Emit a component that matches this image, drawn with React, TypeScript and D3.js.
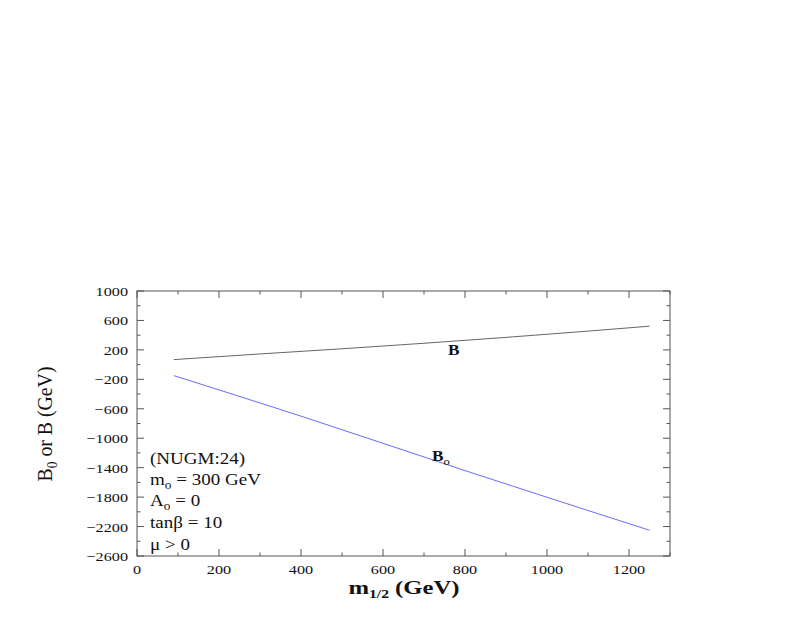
import React from "react";
import * as d3 from "d3";

const bX = [90, 300, 500, 700, 900, 1100, 1250];
const bY = [68, 145, 215, 290, 370, 455, 522];
const b0X = [90, 400, 800, 1250];
const b0Y = [-150, -700, -1440, -2250];
const xTicks = [0, 200, 400, 600, 800, 1000, 1200];
const yTicks = [1000, 600, 200, -200, -600, -1000, -1400, -1800, -2200, -2600];

export default function App() {
  const W = 809, H = 629;
  const L = 137, R = 670, T = 291, B = 556;
  const x = d3.scaleLinear().domain([0, 1300]).range([L, R]);
  const y = d3.scaleLinear().domain([-2600, 1000]).range([B, T]);
  const line = d3.line<[number, number]>().x(d => x(d[0])).y(d => y(d[1])).curve(d3.curveMonotoneX);
  const bData = bX.map((v, i) => [v, bY[i]] as [number, number]);
  const b0Data = b0X.map((v, i) => [v, b0Y[i]] as [number, number]);
  const xMinor = d3.range(0, 1301, 100);
  const yMinor = d3.range(-2600, 1001, 200);
  const font = "'Liberation Serif', 'Times New Roman', serif";
  const fmt = (v: number) => (v < 0 ? "\u2212" + Math.abs(v) : String(v));
  const sub = (main: string, s: string, rest: string) => (
    <>{main}<tspan fontSize="0.7em" dy="4">{s}</tspan><tspan dy="-4">{rest}</tspan></>
  );
  const noteEls = [
    <>(NUGM:24)</>,
    sub("m", "o", " = 300 GeV"),
    sub("A", "o", " = 0"),
    <>tanβ = 10</>,
    <>μ &gt; 0</>,
  ];
  const noteY = [464, 485, 506, 528, 550];
  const tickSx = 1.2;
  const noteSx = 1.12;
  return (
    <svg width={W} height={H} style={{ position: "absolute", left: 0, top: 0 }} fontFamily={font} fill="#111">
      <rect x={0} y={0} width={W} height={H} fill="white" />
      <rect x={L} y={T} width={R - L} height={B - T} fill="none" stroke="#555" strokeWidth={1} />
      {xMinor.map(v => {
        const major = v % 200 === 0;
        const len = major ? 7 : 3.5;
        return (
          <g key={"x" + v} stroke="#555">
            <line x1={x(v)} x2={x(v)} y1={B} y2={B - len} />
            <line x1={x(v)} x2={x(v)} y1={T} y2={T + len} />
          </g>
        );
      })}
      {yMinor.map(v => {
        const major = (v + 2600) % 400 === 0;
        const len = major ? 7 : 3.5;
        return (
          <g key={"y" + v} stroke="#555">
            <line x1={L} x2={L + len} y1={y(v)} y2={y(v)} />
            <line x1={R} x2={R - len} y1={y(v)} y2={y(v)} />
          </g>
        );
      })}
      {xTicks.map(v => (
        <text key={"xt" + v} transform={`translate(${x(v)},${574}) scale(${tickSx},1)`} textAnchor="middle" fontSize={13.5}>{v}</text>
      ))}
      {yTicks.map(v => (
        <text key={"yt" + v} transform={`translate(${128},${y(v) + 5}) scale(${tickSx},1)`} textAnchor="end" fontSize={13.5}>{fmt(v)}</text>
      ))}
      <path d={line(bData) || ""} fill="none" stroke="#666" strokeWidth={1} />
      <path d={line(b0Data) || ""} fill="none" stroke="#6b6bff" strokeWidth={1} />
      <g transform={`translate(448,355) scale(1.15,1)`}>
        <text x={0} y={0} fontSize={15} fontWeight="bold">B</text>
      </g>
      <g transform={`translate(432,461) scale(1.15,1)`}>
        <text x={0} y={0} fontSize={15} fontWeight="bold">B<tspan fontSize={11} dy={4} fontWeight="normal">o</tspan></text>
      </g>
      {noteEls.map((el, i) => (
        <text key={"n" + i} transform={`translate(150,${noteY[i]}) scale(${noteSx},1)`} fontSize={17}>{el}</text>
      ))}
      <text transform={`translate(404,594) scale(1.3,1)`} textAnchor="middle" fontSize={19} fontWeight="bold">
        m<tspan fontSize={12} dy={4}>1/2</tspan><tspan dy={-4}> (GeV)</tspan>
      </text>
      <text transform={`translate(52,${424}) rotate(-90) scale(0.9,1)`} textAnchor="middle" fontSize={22}>
        B<tspan fontSize={15} dy={5}>0</tspan><tspan dy={-5}> or B (GeV)</tspan>
      </text>
    </svg>
  );
}
